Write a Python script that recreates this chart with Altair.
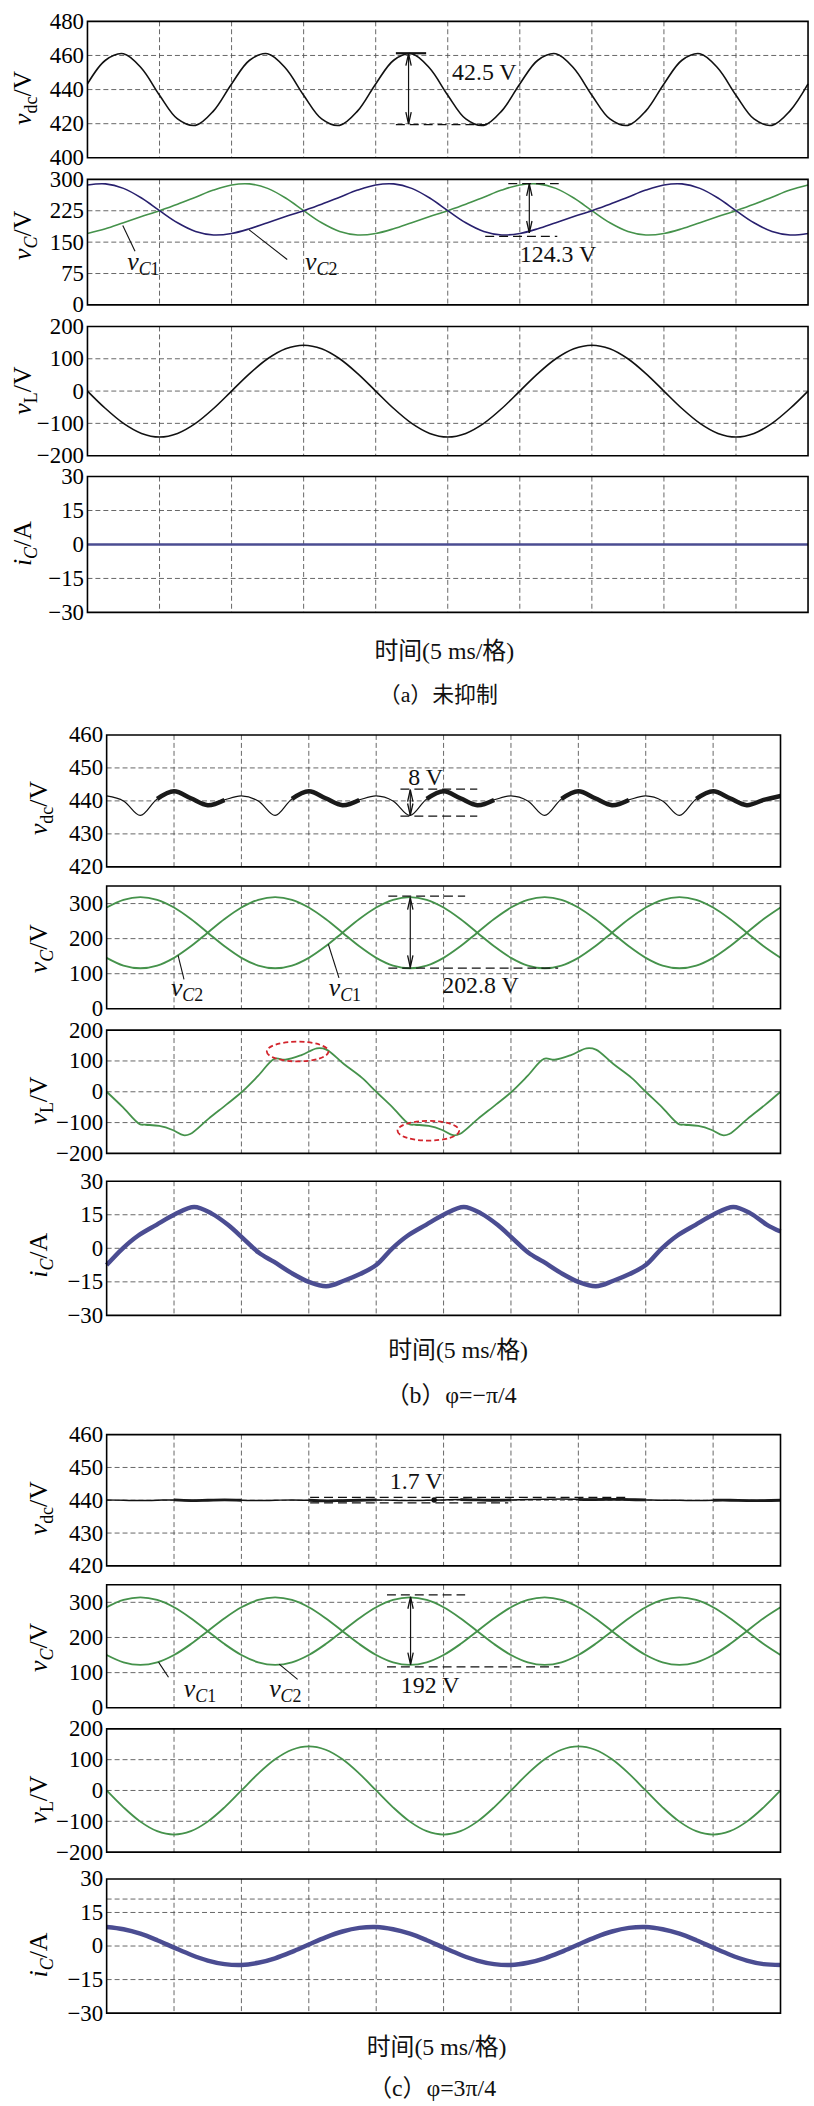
import altair as alt
import pandas as pd

SERIF = "Liberation Serif"
MIXED = "Liberation Serif, Noto Sans CJK SC"
BLACK = "#111111"
GREEN = "#45924b"
NAVY = "#28206e"
ICBLUE = "#4b4d92"
RED = "#d3242c"
GRIDC = "#555555"

# ---------------- data (time in ms, 5 ms per division) ----------------
T = [0, 1.25, 2.5, 3.75, 5, 6.25, 7.5, 8.75, 10, 11.25, 12.5, 13.75, 15, 16.25, 17.5, 18.75,
     20, 21.25, 22.5, 23.75, 25, 26.25, 27.5, 28.75, 30, 31.25, 32.5, 33.75, 35, 36.25, 37.5, 38.75,
     40, 41.25, 42.5, 43.75, 45, 46.25, 47.5, 48.75, 50]
GRID_T = [5, 10, 15, 20, 25, 30, 35, 40, 45]

# (a) no suppression
VDC_A = [443.3, 457.2, 461.0, 452.5, 436.7, 422.8, 419.0, 427.5,
         443.3, 457.2, 461.0, 452.5, 436.7, 422.8, 419.0, 427.5,
         443.3, 457.2, 461.0, 452.5, 436.7, 422.8, 419.0, 427.5,
         443.3, 457.2, 461.0, 452.5, 436.7, 422.8, 419.0, 427.5,
         443.3, 457.2, 461.0, 452.5, 436.7, 422.8, 419.0, 427.5,
         443.3]
VC1_A = [170.7, 182.0, 196.5, 211.0, 225.3, 240.6, 257.5, 274.4, 286.7, 289.2, 278.5, 255.4, 225.3, 196.2, 175.5, 167.2,
         170.7, 182.0, 196.5, 211.0, 225.3, 240.6, 257.5, 274.4, 286.7, 289.2, 278.5, 255.4, 225.3, 196.2, 175.5, 167.2,
         170.7, 182.0, 196.5, 211.0, 225.3, 240.6, 257.5, 274.4, 286.7]
VC2_A = [286.7, 289.2, 278.5, 255.4, 225.3, 196.2, 175.5, 167.2, 170.7, 182.0, 196.5, 211.0, 225.3, 240.6, 257.5, 274.4,
         286.7, 289.2, 278.5, 255.4, 225.3, 196.2, 175.5, 167.2, 170.7, 182.0, 196.5, 211.0, 225.3, 240.6, 257.5, 274.4,
         286.7, 289.2, 278.5, 255.4, 225.3, 196.2, 175.5, 167.2, 170.7]
VL_A = [0, -54, -100, -131, -142, -131, -100, -54, 0, 54, 100, 131, 142, 131, 100, 54,
        0, -54, -100, -131, -142, -131, -100, -54, 0, 54, 100, 131, 142, 131, 100, 54,
        0, -54, -100, -131, -142, -131, -100, -54, 0]
IC_A_T = [0, 50]
IC_A = [0, 0]

# (b) phi = -pi/4
VDC_B = [441.5, 440.0, 435.6, 440.6, 442.9, 440.8, 438.7, 440.3,
         441.5, 440.0, 435.6, 440.6, 442.9, 440.8, 438.7, 440.3,
         441.5, 440.0, 435.6, 440.6, 442.9, 440.8, 438.7, 440.3,
         441.5, 440.0, 435.6, 440.6, 442.9, 440.8, 438.7, 440.3,
         441.5, 440.0, 435.6, 440.6, 442.9, 440.8, 438.7, 440.3,
         441.5]
NOISE_B = [(3.75, 8.75), (13.75, 18.75), (23.75, 28.75), (33.75, 38.75), (43.75, 50)]
VC1_B = [288.7, 310.7, 318.4, 310.7, 288.7, 255.8, 217.0, 178.2, 145.3, 123.3, 115.6, 123.3, 145.3, 178.2, 217.0, 255.8,
         288.7, 310.7, 318.4, 310.7, 288.7, 255.8, 217.0, 178.2, 145.3, 123.3, 115.6, 123.3, 145.3, 178.2, 217.0, 255.8,
         288.7, 310.7, 318.4, 310.7, 288.7, 255.8, 217.0, 178.2, 145.3]
VC2_B = [145.3, 123.3, 115.6, 123.3, 145.3, 178.2, 217.0, 255.8, 288.7, 310.7, 318.4, 310.7, 288.7, 255.8, 217.0, 178.2,
         145.3, 123.3, 115.6, 123.3, 145.3, 178.2, 217.0, 255.8, 288.7, 310.7, 318.4, 310.7, 288.7, 255.8, 217.0, 178.2,
         145.3, 123.3, 115.6, 123.3, 145.3, 178.2, 217.0, 255.8, 288.7]
VL_B_T = [0, 1.2, 2.45, 2.9, 3.9, 4.9, 5.7, 6.2, 7.55, 8.9, 10.05, 11.25, 12.45, 13.25, 14.45, 15.6, 16.3, 17.6, 18.95,
          20, 21.2, 22.45, 22.9, 23.9, 24.9, 25.7, 26.2, 27.55, 28.9, 30.05, 31.25, 32.45, 33.25, 34.45, 35.6, 36.3, 37.6, 38.95,
          40, 41.2, 42.45, 42.9, 43.9, 44.9, 45.7, 46.2, 47.55, 48.9, 50]
VL_B = [0, -50, -105, -107, -111, -124, -141, -137, -88, -41, 0, 52, 107, 104, 119, 141, 137, 90, 45,
        0, -50, -105, -107, -111, -124, -141, -137, -88, -41, 0, 52, 107, 104, 119, 141, 137, 90, 45,
        0, -50, -105, -107, -111, -124, -141, -137, -88, -41, 0]
IC_B_T = [0, 1.2, 2.3, 3.7, 5.0, 6.5, 7.8, 9.0, 10.2, 11.3, 12.4, 13.7, 15.0, 16.3, 17.6, 18.8,
          20, 21.2, 22.3, 23.7, 25.0, 26.5, 27.8, 29.0, 30.2, 31.3, 32.4, 33.7, 35.0, 36.3, 37.6, 38.8,
          40, 41.2, 42.3, 43.7, 45.0, 46.5, 47.8, 49.0, 50]
IC_B = [-7.5, 0, 5.5, 10.5, 15, 18.5, 15.5, 10.5, 4, -2, -6, -11, -15, -17, -14.5, -11.5,
        -7.5, 0, 5.5, 10.5, 15, 18.5, 15.5, 10.5, 4, -2, -6, -11, -15, -17, -14.5, -11.5,
        -7.5, 0, 5.5, 10.5, 15, 18.5, 15.5, 10.5, 7.5]

# (c) phi = 3pi/4
VDC_C = [440.1, 440.0, 439.9, 440.0, 440.1, 439.9, 440.0, 440.1, 440.0, 439.9, 440.0, 440.1, 440.0, 439.8,
         439.9, 440.0, 440.1, 440.0, 439.9, 440.0, 440.1, 440.2, 440.1, 440.0, 440.1, 440.2, 440.3, 440.4,
         440.3, 440.2, 440.3, 440.2, 440.1, 440.0, 440.0, 439.9, 440.0, 440.0, 439.9, 439.9, 440.0]
NOISE_C = [(5, 10), (15, 20), (26.25, 30), (35, 40), (45, 50)]
VC1_C = [150.1, 129.3, 122.0, 129.3, 150.1, 181.2, 218.0, 254.8, 285.9, 306.7, 314.0, 306.7, 285.9, 254.8, 218.0, 181.2,
         150.1, 129.3, 122.0, 129.3, 150.1, 181.2, 218.0, 254.8, 285.9, 306.7, 314.0, 306.7, 285.9, 254.8, 218.0, 181.2,
         150.1, 129.3, 122.0, 129.3, 150.1, 181.2, 218.0, 254.8, 285.9]
VC2_C = [285.9, 306.7, 314.0, 306.7, 285.9, 254.8, 218.0, 181.2, 150.1, 129.3, 122.0, 129.3, 150.1, 181.2, 218.0, 254.8,
         285.9, 306.7, 314.0, 306.7, 285.9, 254.8, 218.0, 181.2, 150.1, 129.3, 122.0, 129.3, 150.1, 181.2, 218.0, 254.8,
         285.9, 306.7, 314.0, 306.7, 285.9, 254.8, 218.0, 181.2, 150.1]
VL_C = [0, -54.7, -101.1, -132.1, -143, -132.1, -101.1, -54.7, 0, 54.7, 101.1, 132.1, 143, 132.1, 101.1, 54.7,
        0, -54.7, -101.1, -132.1, -143, -132.1, -101.1, -54.7, 0, 54.7, 101.1, 132.1, 143, 132.1, 101.1, 54.7,
        0, -54.7, -101.1, -132.1, -143, -132.1, -101.1, -54.7, 0]
IC_C = [8.5, 7.5, 5.5, 2.6, -0.7, -3.9, -6.5, -8.1, -8.5, -7.5, -5.5, -2.6, 0.7, 3.9, 6.5, 8.1,
        8.5, 7.5, 5.5, 2.6, -0.7, -3.9, -6.5, -8.1, -8.5, -7.5, -5.5, -2.6, 0.7, 3.9, 6.5, 8.1,
        8.5, 7.5, 5.5, 2.6, -0.7, -3.9, -6.5, -8.1, -8.5]

ONE = pd.DataFrame({"o": [0]})

# ---------------- helpers ----------------
EM = {"v": .444, "i": .278, "d": .5, "c": .444, "C": .667, "L": .611, "/": .278,
      "V": .722, "A": .722, "1": .5, "2": .5}


def tw(s, size):
    return sum(EM.get(ch, .5) for ch in s) * size


def make_x(x0, x1):
    sc = alt.Scale(domain=[0, 50], range=[x0, x1], nice=False, zero=False)
    return lambda f="t": alt.X(f"{f}:Q", scale=sc, axis=None)


def make_y(dom, ticks, offset):
    sc = alt.Scale(domain=dom, nice=False, zero=False)
    kw = dict(values=ticks, grid=False, ticks=False, domain=False, labelFont=SERIF,
              labelFontSize=23, labelColor="black", labelPadding=4, title=None,
              labelOverlap=False)
    if offset:
        kw["offset"] = -offset
    ax = alt.Axis(**kw)
    return lambda f: alt.Y(f"{f}:Q", scale=sc, axis=ax)


def curve(X, Y, t, v, color, width):
    df = pd.DataFrame({"t": t, "v": v})
    return alt.Chart(df).mark_line(color=color, strokeWidth=width,
                                   interpolate="catmull-rom").encode(x=X(), y=Y("v"))


def noisy(X, Y, t, v, ranges, color, width):
    rows = []
    for i, (a, b) in enumerate(ranges):
        for tt, vv in zip(t, v):
            if a <= tt <= b:
                rows.append({"t": tt, "v": vv, "seg": i})
    df = pd.DataFrame(rows)
    return alt.Chart(df).mark_line(color=color, strokeWidth=width, interpolate="catmull-rom").encode(
        x=X(), y=Y("v"), detail="seg:N")


def vline(X, Y, t, v1, v2, width=1.2):
    df = pd.DataFrame({"t": [t], "v": [v1], "v2": [v2]})
    return alt.Chart(df).mark_rule(color=BLACK, strokeWidth=width).encode(
        x=X(), y=Y("v"), y2=alt.Y2("v2"))


def hline(X, Y, t1, t2, v, dash=True, width=1.2):
    df = pd.DataFrame({"t": [t1], "t2": [t2], "v": [v]})
    mk = dict(color=BLACK, strokeWidth=width)
    if dash:
        mk["strokeDash"] = [9, 5]
    return alt.Chart(df).mark_rule(**mk).encode(x=X(), x2=alt.X2("t2"), y=Y("v"))


def leader(X, Y, t1, v1, t2, v2):
    df = pd.DataFrame({"t": [t1], "t2": [t2], "v": [v1], "v2": [v2]})
    return alt.Chart(df).mark_rule(color=BLACK, strokeWidth=1.1).encode(
        x=X(), x2=alt.X2("t2"), y=Y("v"), y2=alt.Y2("v2"))


UP = "M -0.45 1 L 0 -1 L 0.45 1"
DOWN = "M -0.45 -1 L 0 1 L 0.45 -1"


def arrow(X, Y, t, vtop, vbot):
    out = [vline(X, Y, t, vtop, vbot)]
    for v, shape, off in [(vtop, UP, 6), (vbot, DOWN, -6)]:
        df = pd.DataFrame({"t": [t], "v": [v]})
        out.append(alt.Chart(df).mark_point(shape=shape, size=144, filled=False, stroke=BLACK,
                                            strokeWidth=1.3, opacity=1, yOffset=off).encode(
            x=X(), y=Y("v")))
    return out


def label(X, Y, t, v, s, size=24, align="left", italic=False, dx=0, dy=0, baseline="middle"):
    df = pd.DataFrame({"t": [t], "v": [v]})
    return alt.Chart(df).mark_text(text=s, font=SERIF, fontSize=size, align=align, baseline=baseline,
                                   fontStyle="italic" if italic else "normal", dx=dx, dy=dy,
                                   color=BLACK).encode(x=X(), y=Y("v"))


def vclabel(X, Y, t, v, num):
    return [label(X, Y, t, v, "v", 26, italic=True, baseline="alphabetic", dy=6),
            label(X, Y, t, v, "C", 18, italic=True, baseline="alphabetic", dx=11.5, dy=11),
            label(X, Y, t, v, num, 18, baseline="alphabetic", dx=23.5, dy=11)]


ELL = "M -1 0 A 1 0.32 0 1 0 1 0 A 1 0.32 0 1 0 -1 0"


def ellipse(X, Y, t, v):
    df = pd.DataFrame({"t": [t], "v": [v]})
    return alt.Chart(df).mark_point(shape=ELL, size=3844, filled=False, stroke=RED, strokeWidth=1.8,
                                    strokeDash=[5, 3], opacity=1).encode(x=X(), y=Y("v"))


def title_layers(pieces, center, xb):
    total = sum(tw(s, size) for s, size, it, sub in pieces)
    y = center + total / 2
    out = []
    for s, size, it, sub in pieces:
        out.append(alt.Chart(ONE).mark_text(text=s, angle=270, align="left", baseline="alphabetic",
                                            font=SERIF, fontSize=size,
                                            fontStyle="italic" if it else "normal",
                                            color="black").encode(
            x=alt.value(xb + (6 if sub else 0)), y=alt.value(y)))
        y -= tw(s, size)
    return out


def text_px(s, x, y, size, font=MIXED):
    return alt.Chart(ONE).mark_text(text=s, font=font, fontSize=size, align="center",
                                    baseline="middle", color=BLACK).encode(
        x=alt.value(x), y=alt.value(y))


TT_VDC = [("v", 26, True, False), ("dc", 18, False, True), ("/V", 26, False, False)]
TT_VC = [("v", 26, True, False), ("C", 18, True, True), ("/V", 26, False, False)]
TT_VL = [("v", 26, True, False), ("L", 18, False, True), ("/V", 26, False, False)]
TT_IC = [("i", 26, True, False), ("C", 18, True, True), ("/A", 26, False, False)]

WTOT = 725      # width of every panel group (panel a plot width)
PW_BC = 678     # plot width of panels (b) and (c)
OFF_BC = 19.3   # left shift of panels (b) and (c)


def panel(H, dom, ticks, inner, content, title, tcenter, off=0.0, pw=WTOT, extra=(), tx=-57):
    X = make_x(off, off + pw)
    Y = make_y(dom, ticks, off)
    layers = [
        alt.Chart(pd.DataFrame({"t": GRID_T})).mark_rule(
            color=GRIDC, strokeDash=[5, 3], strokeWidth=0.9).encode(x=X()),
        alt.Chart(pd.DataFrame({"v": inner})).mark_rule(
            color=GRIDC, strokeDash=[5, 3], strokeWidth=0.9).encode(
            y=Y("v"), x=alt.value(off), x2=alt.value(off + pw)),
    ]
    layers += content(X, Y)
    layers.append(alt.Chart(ONE).mark_rect(fillOpacity=0, stroke="black", strokeWidth=1.6).encode(
        x=alt.value(off), x2=alt.value(off + pw), y=alt.value(0), y2=alt.value(H)))
    layers += title_layers(title, tcenter, off + tx)
    layers += list(extra)
    return alt.layer(*layers).properties(width=WTOT, height=H)


def gap(h):
    return alt.Chart(ONE).mark_point(opacity=0).encode(
        x=alt.value(0), y=alt.value(0)).properties(width=WTOT, height=h)


# ---------------- group (a) ----------------
a1 = panel(137.3, [400, 480], [400, 420, 440, 460, 480], [420, 440, 460],
           lambda X, Y: [curve(X, Y, T, VDC_A, BLACK, 1.6),
                         hline(X, Y, 21.4, 23.5, 461.3, dash=False, width=2.2),
                         hline(X, Y, 21.4, 27.7, 419.4)]
           + arrow(X, Y, 22.28, 461.0, 419.8)
           + [label(X, Y, 25.3, 449.7, "42.5 V")],
           TT_VDC, 77)
a2 = panel(126.3, [0, 300], [0, 75, 150, 225, 300], [75, 150, 225],
           lambda X, Y: [curve(X, Y, T, VC1_A, GREEN, 1.6), curve(X, Y, T, VC2_A, NAVY, 1.6),
                         hline(X, Y, 29.2, 32.7, 290), hline(X, Y, 27.6, 32.6, 164),
                         leader(X, Y, 3.3, 128, 2.45, 190), leader(X, Y, 13.86, 108.5, 11.2, 180)]
           + arrow(X, Y, 30.66, 289, 172)
           + [label(X, Y, 30.0, 120, "124.3 V")]
           + vclabel(X, Y, 2.76, 96.7, "1") + vclabel(X, Y, 15.1, 96.7, "2"),
           TT_VC, 56.3)
a3 = panel(130, [-200, 200], [-200, -100, 0, 100, 200], [-100, 0, 100],
           lambda X, Y: [curve(X, Y, T, VL_A, BLACK, 1.6)],
           TT_VL, 64.5)
a4 = panel(136.7, [-30, 30], [-30, -15, 0, 15, 30], [-15, 0, 15],
           lambda X, Y: [curve(X, Y, IC_A_T, IC_A, ICBLUE, 2.6)],
           TT_IC, 67.5,
           extra=[text_px("时间(5 ms/格)", 359, 176.7, 24), text_px("（a）未抑制", 353, 220, 22)])

# ---------------- group (b) ----------------
KB = dict(off=OFF_BC, pw=PW_BC, tx=-60)
b1 = panel(132.7, [420, 460], [420, 430, 440, 450, 460], [430, 440, 450],
           lambda X, Y: [curve(X, Y, T, VDC_B, BLACK, 1.2),
                         noisy(X, Y, T, VDC_B, NOISE_B, "#1a1a1a", 4.5),
                         hline(X, Y, 21.8, 27.5, 443.6), hline(X, Y, 21.8, 27.5, 435.4)]
           + arrow(X, Y, 22.53, 443.4, 435.6)
           + [label(X, Y, 23.67, 446.8, "8 V", align="center")],
           TT_VDC, 73.5, **KB)
b2 = panel(123.5, [0, 350], [0, 100, 200, 300], [100, 200, 300],
           lambda X, Y: [curve(X, Y, T, VC1_B, GREEN, 1.9), curve(X, Y, T, VC2_B, GREEN, 1.9),
                         hline(X, Y, 20.9, 26.6, 321), hline(X, Y, 20.9, 33.5, 115.7),
                         leader(X, Y, 5.74, 84, 5.3, 152), leader(X, Y, 17.24, 88, 16.45, 184)]
           + arrow(X, Y, 22.53, 317, 118)
           + [label(X, Y, 24.9, 63.6, "202.8 V")]
           + vclabel(X, Y, 4.77, 54, "2") + vclabel(X, Y, 16.48, 54, "1"),
           TT_VC, 63, **KB)
b3 = panel(124, [-200, 200], [-200, -100, 0, 100, 200], [-100, 0, 100],
           lambda X, Y: [curve(X, Y, VL_B_T, VL_B, GREEN, 1.8),
                         ellipse(X, Y, 14.17, 130.6), ellipse(X, Y, 23.87, -126.5)],
           TT_VL, 70.7, **KB)
b4 = panel(135, [-30, 30], [-30, -15, 0, 15, 30], [-15, 0, 15],
           lambda X, Y: [curve(X, Y, IC_B_T, IC_B, ICBLUE, 4.5)],
           TT_IC, 74.5,
           extra=[text_px("时间(5 ms/格)", OFF_BC + 353.6, 171, 24),
                  text_px("（b）φ=−π/4", OFF_BC + 346.6, 216, 24)], **KB)

# ---------------- group (c) ----------------
c1 = panel(132, [420, 460], [420, 430, 440, 450, 460], [430, 440, 450],
           lambda X, Y: [curve(X, Y, T, VDC_C, BLACK, 1.5),
                         noisy(X, Y, T, VDC_C, NOISE_C, "#1a1a1a", 2.8),
                         hline(X, Y, 15.1, 38.5, 440.9), hline(X, Y, 15.1, 29.8, 439.2),
                         alt.Chart(pd.DataFrame({"t": [24.3], "v": [440.1]})).mark_point(
                             shape="circle", size=30, filled=True, color=BLACK, opacity=1).encode(
                             x=X(), y=Y("v")),
                         label(X, Y, 22.96, 445.6, "1.7 V", align="center")],
           TT_VDC, 74, **KB)
c2 = panel(123.8, [0, 350], [0, 100, 200, 300], [100, 200, 300],
           lambda X, Y: [curve(X, Y, T, VC1_C, GREEN, 1.9), curve(X, Y, T, VC2_C, GREEN, 1.9),
                         hline(X, Y, 20.8, 26.6, 321), hline(X, Y, 20.8, 33.6, 116.2),
                         leader(X, Y, 4.59, 87, 3.85, 130), leader(X, Y, 14.17, 81, 12.8, 124)]
           + arrow(X, Y, 22.55, 315.6, 123)
           + [label(X, Y, 24.0, 62.3, "192 V", align="center")]
           + vclabel(X, Y, 5.73, 48, "1") + vclabel(X, Y, 12.06, 48, "2"),
           TT_VC, 63, **KB)
c3 = panel(124, [-200, 200], [-200, -100, 0, 100, 200], [-100, 0, 100],
           lambda X, Y: [curve(X, Y, T, VL_C, GREEN, 1.8)],
           TT_VL, 71, **KB)
c4 = panel(135, [-30, 30], [-30, -15, 0, 15, 30], [-15, 0, 15, 21],
           lambda X, Y: [curve(X, Y, T, IC_C, ICBLUE, 4.5)],
           TT_IC, 76.5,
           extra=[text_px("时间(5 ms/格)", OFF_BC + 332, 170, 24),
                  text_px("（c）φ=3π/4", OFF_BC + 327.5, 211.3, 24)], **KB)

chart = alt.vconcat(
    a1, gap(20.5), a2, gap(20.5), a3, gap(20.5), a4, gap(122.5),
    b1, gap(18.8), b2, gap(20.3), b3, gap(27.4), b4, gap(120),
    c1, gap(18.8), c2, gap(20.3), c3, gap(27), c4,
    spacing=0, bounds="flush"
).properties(
    padding={"left": 9, "top": 3, "right": 0, "bottom": 0}, background="white"
).configure_view(stroke="transparent")

chart.save("out.html", embed_options={"renderer": "svg", "actions": False})
